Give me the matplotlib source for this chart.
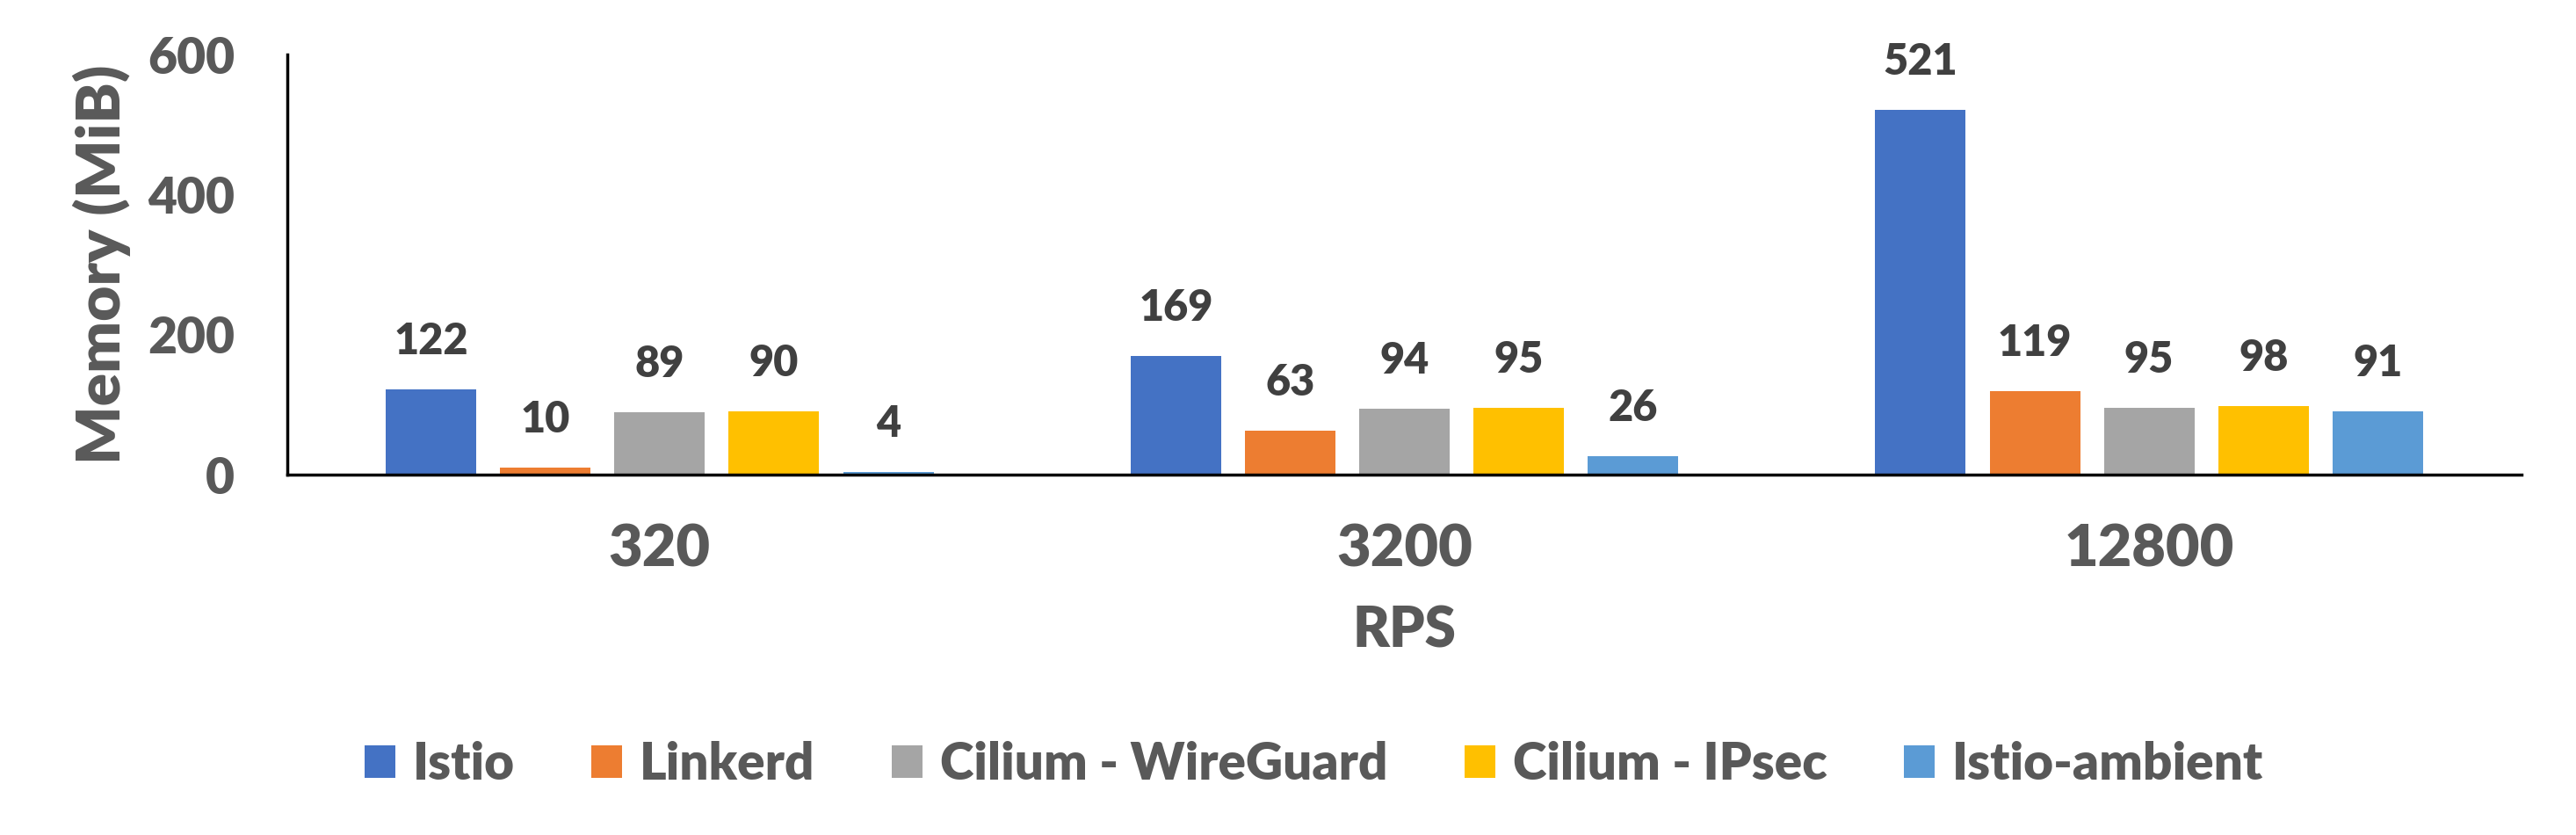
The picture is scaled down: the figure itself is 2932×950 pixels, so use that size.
import matplotlib
matplotlib.use("Agg")
import matplotlib.pyplot as plt
import numpy as np

categories = ["320", "3200", "12800"]
series = ["Istio", "Linkerd", "Cilium - WireGuard", "Cilium - IPsec", "Istio-ambient"]
istio = [122, 169, 521]
linkerd = [10, 63, 119]
cilium_wg = [89, 94, 95]
cilium_ipsec = [90, 95, 98]
istio_ambient = [4, 26, 91]
values = [istio, linkerd, cilium_wg, cilium_ipsec, istio_ambient]
colors = ["#4472C4", "#ED7D31", "#A5A5A5", "#FFC000", "#5B9BD5"]
yticks = [0, 200, 400, 600]

plt.rcParams['font.family'] = ['Lato', 'DejaVu Sans']
grey = "#595959"
dark = "#404040"
W = "heavy"

fig = plt.figure(figsize=(29.32, 9.5), dpi=100)
ax = fig.add_axes([327 / 2932, 410 / 950, 2543 / 2932, 478 / 950])

x = np.arange(len(categories))
width = 0.1215
step = 0.1535
for i, (name, vals, c) in enumerate(zip(series, values, colors)):
    pos = x + (i - 2) * step
    bars = ax.bar(pos, vals, width=width, color=c, label=name)
    for b, v in zip(bars, vals):
        ax.annotate(str(v), (b.get_x() + b.get_width() / 2, v),
                    xytext=(0, 23), textcoords="offset points",
                    ha="center", va="bottom", fontsize=35,
                    fontweight=W, color=dark)

ax.set_xlim(-0.5, 2.5)
ax.set_ylim(0, 600)
ax.set_yticks(yticks)
ax.set_xticks(x)
ax.set_xticklabels(categories)
ax.tick_params(axis="both", length=0, labelcolor=grey)
ax.tick_params(axis="x", pad=39, labelsize=48)
ax.tick_params(axis="y", pad=43, labelsize=41)
for lab in ax.get_xticklabels() + ax.get_yticklabels():
    lab.set_fontweight(W)
for s in ["top", "right"]:
    ax.spines[s].set_visible(False)
for s in ["left", "bottom"]:
    ax.spines[s].set_linewidth(2.5)
    ax.spines[s].set_color("black")

ax.set_xlabel("RPS", fontsize=46, fontweight=W, color=grey)
ax.xaxis.set_label_coords(0.5, (540 - 718) / 478)
ax.xaxis.label.set_va("center")
ax.set_ylabel("Memory (MiB)", fontsize=50, fontweight=W, color=grey)
ax.yaxis.set_label_coords((116 - 327) / 2543, 0.5)
ax.yaxis.label.set_va("center")

leg = fig.legend(loc="center", bbox_to_anchor=(0.51, 0.0847), ncol=5, frameon=False,
                 fontsize=42, handlelength=0.6, handleheight=0.6, handletextpad=0.34,
                 columnspacing=1.5)
for t in leg.get_texts():
    t.set_color(grey)
    t.set_fontweight(W)

fig.savefig("out.png", dpi=100)
